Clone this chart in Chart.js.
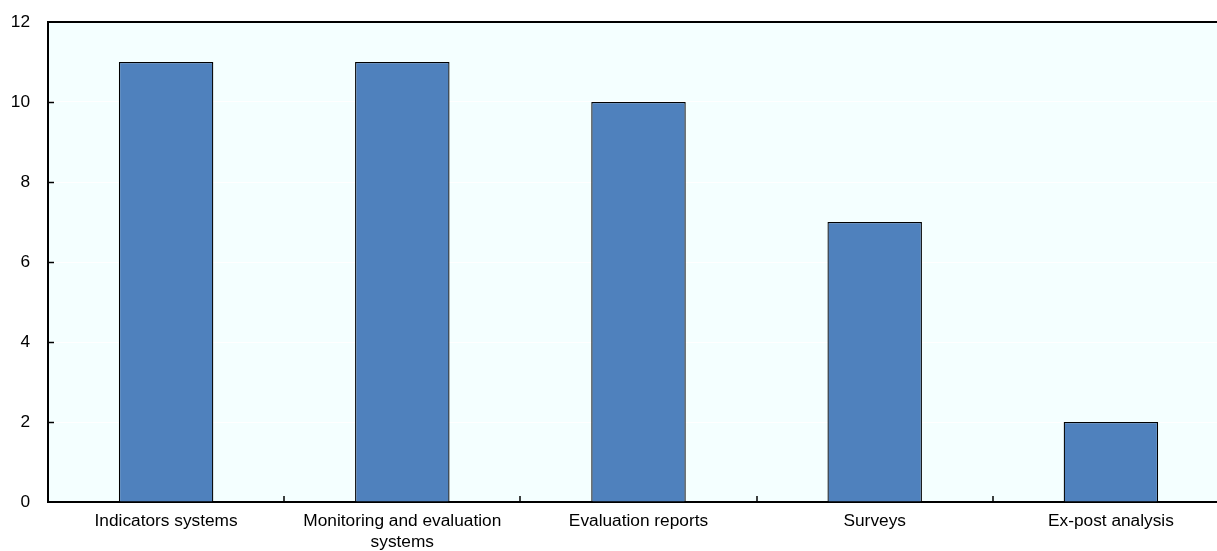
<!DOCTYPE html>
<html>
<head>
<meta charset="utf-8">
<script src="https://cdn.jsdelivr.net/npm/chart.js@4/dist/chart.umd.min.js"></script>
<style>
  html, body { margin: 0; padding: 0; background: #ffffff; overflow: hidden; }
  #wrap { position: relative; width: 1250px; height: 551px; }
</style>
</head>
<body>
<div id="wrap"><canvas id="c"></canvas></div>
<script>
// Tools used for follow-up of the strategy
const categories = [
  "Indicators systems",
  ["Monitoring and evaluation", "systems"],
  "Evaluation reports",
  "Surveys",
  "Ex-post analysis"
];
const counts = [11, 11, 10, 7, 2];
const yTicks = [0, 2, 4, 6, 8, 10, 12];

const PLOT_BG = "#F4FFFF";
const FONT = "'Liberation Sans', Arial, sans-serif";

// Panel background, top frame line and short inward tick marks
const framePlugin = {
  id: "frame",
  beforeDraw(chart) {
    const { ctx, chartArea: a } = chart;
    ctx.save();
    ctx.fillStyle = PLOT_BG;
    ctx.fillRect(a.left, a.top, a.right - a.left, a.bottom - a.top);
    ctx.restore();
  },
  afterDatasetsDraw(chart) {
    const { ctx, chartArea: a, scales } = chart;
    ctx.save();
    ctx.strokeStyle = "#000000";
    ctx.lineWidth = 2;
    // top frame
    ctx.beginPath();
    ctx.moveTo(a.left - 1, a.top);
    ctx.lineTo(a.right, a.top);
    ctx.stroke();
    // y ticks pointing into the panel
    ctx.lineWidth = 1.5;
    scales.y.ticks.forEach(t => {
      if (t.value === 0 || t.value === 12) return;
      const py = Math.round(scales.y.getPixelForValue(t.value)) + 0.5;
      ctx.beginPath();
      ctx.moveTo(a.left, py);
      ctx.lineTo(a.left + 6, py);
      ctx.stroke();
    });
    // x ticks between categories
    const xs = scales.x;
    for (let i = 1; i < categories.length; i++) {
      const px = Math.round((xs.getPixelForValue(i - 1) + xs.getPixelForValue(i)) / 2);
      ctx.beginPath();
      ctx.moveTo(px, a.bottom);
      ctx.lineTo(px, a.bottom - 6);
      ctx.stroke();
    }
    ctx.restore();
  }
};

new Chart(document.getElementById("c"), {
  type: "bar",
  data: {
    labels: categories,
    datasets: [{
      data: counts,
      backgroundColor: "#4F81BD",
      borderColor: "#000000",
      borderWidth: 1.3,
      barPercentage: 0.4,
      categoryPercentage: 1
    }]
  },
  options: {
    responsive: true,
    maintainAspectRatio: false,
    animation: false,
    layout: { padding: { top: 22, right: 21, left: 0, bottom: 0 } },
    plugins: { legend: { display: false }, tooltip: { enabled: false } },
    scales: {
      x: {
        grid: { display: false, drawTicks: false },
        border: { display: true, color: "#000000", width: 2 },
        ticks: {
          color: "#000000",
          font: { family: FONT, size: 17.3 },
          padding: 9,
          maxRotation: 0,
          autoSkip: false
        },
        afterFit(scale) { scale.height = 49; }
      },
      y: {
        min: 0,
        max: 12,
        afterBuildTicks(scale) { scale.ticks = yTicks.map(v => ({ value: v })); },
        grid: { color: "#FFFFFF", lineWidth: 1, drawTicks: false },
        border: { display: true, color: "#000000", width: 2 },
        ticks: {
          color: "#000000",
          font: { family: FONT, size: 17.3, lineHeight: 0.8 },
          padding: 18
        },
        afterFit(scale) { scale.width = 48; scale.paddingTop = 0; scale.paddingBottom = 0; }
      }
    }
  },
  plugins: [framePlugin]
});
</script>
</body>
</html>
